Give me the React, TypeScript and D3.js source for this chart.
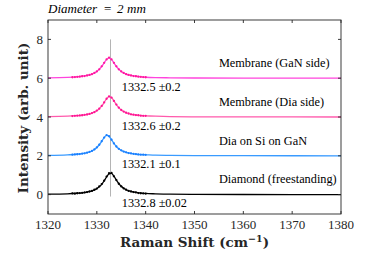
import React from 'react';
import * as d3 from 'd3';

// measured spectra (dots) share one wavenumber grid
const DOT_X = [1325, 1325.5, 1326, 1326.5, 1327, 1327.5, 1328, 1328.5, 1329, 1329.5, 1330, 1330.5, 1331, 1331.5, 1332, 1332.5, 1333, 1333.5, 1334, 1334.5, 1335, 1335.5, 1336, 1336.5, 1337, 1337.5, 1338, 1338.5, 1339, 1339.5, 1340];
// fitted curves share another grid
const FIT_X = [1320, 1324, 1326, 1327, 1328, 1329, 1330, 1330.5, 1331, 1331.5, 1332, 1332.5, 1333, 1333.5, 1334, 1334.5, 1335, 1336, 1337, 1338, 1339, 1340, 1342, 1345, 1350, 1360, 1380];

const NAMES = ['Diamond (freestanding)', 'Dia on Si on GaN', 'Membrane (Dia side)', 'Membrane (GaN side)'];
const PEAKS = ['1332.8 \u00b10.02', '1332.1 \u00b10.1', '1332.6 \u00b10.2', '1332.5 \u00b10.2'];
const OFFSETS = [0, 2, 4, 6];

const DOTS_FREE = [0.06, 0.05, 0.07, 0.08, 0.09, 0.11, 0.13, 0.16, 0.19, 0.25, 0.31, 0.42, 0.54, 0.72, 0.93, 1.10, 1.12, 0.94, 0.75, 0.56, 0.42, 0.32, 0.25, 0.19, 0.16, 0.13, 0.11, 0.08, 0.07, 0.06, 0.05];
const DOTS_SI = [0.06, 0.07, 0.08, 0.09, 0.11, 0.13, 0.16, 0.20, 0.25, 0.33, 0.43, 0.57, 0.75, 0.94, 1.07, 1.01, 0.83, 0.64, 0.48, 0.36, 0.28, 0.22, 0.18, 0.14, 0.12, 0.10, 0.09, 0.07, 0.06, 0.06, 0.05];
const DOTS_DIA = [0.05, 0.06, 0.07, 0.08, 0.09, 0.11, 0.13, 0.16, 0.20, 0.25, 0.33, 0.43, 0.57, 0.75, 0.94, 1.06, 1.00, 0.83, 0.64, 0.48, 0.36, 0.28, 0.22, 0.18, 0.14, 0.12, 0.10, 0.09, 0.07, 0.06, 0.06];
const DOTS_GAN = [0.05, 0.06, 0.07, 0.08, 0.10, 0.11, 0.14, 0.17, 0.21, 0.27, 0.35, 0.46, 0.61, 0.79, 0.97, 1.06, 0.97, 0.79, 0.61, 0.46, 0.35, 0.27, 0.21, 0.17, 0.14, 0.11, 0.10, 0.08, 0.07, 0.06, 0.05];

const FIT_FREE = [0.02, 0.04, 0.07, 0.09, 0.13, 0.19, 0.31, 0.40, 0.53, 0.71, 0.91, 1.07, 1.09, 0.95, 0.75, 0.57, 0.43, 0.25, 0.16, 0.11, 0.08, 0.06, 0.04, 0.02, 0.01, 0.004, 0.001];
const FIT_SI = [0.02, 0.05, 0.08, 0.11, 0.16, 0.25, 0.43, 0.57, 0.75, 0.94, 1.05, 1.00, 0.83, 0.64, 0.48, 0.36, 0.28, 0.18, 0.12, 0.08, 0.06, 0.05, 0.03, 0.02, 0.01, 0.004, 0.001];
const FIT_DIA = [0.02, 0.04, 0.07, 0.09, 0.13, 0.20, 0.33, 0.43, 0.57, 0.75, 0.94, 1.05, 1.00, 0.83, 0.64, 0.48, 0.36, 0.22, 0.14, 0.10, 0.07, 0.06, 0.04, 0.02, 0.01, 0.004, 0.001];
const FIT_GAN = [0.02, 0.04, 0.07, 0.10, 0.14, 0.21, 0.35, 0.46, 0.61, 0.79, 0.97, 1.05, 0.97, 0.79, 0.61, 0.46, 0.35, 0.21, 0.14, 0.10, 0.07, 0.05, 0.03, 0.02, 0.01, 0.004, 0.001];

const DOTS = [DOTS_FREE, DOTS_SI, DOTS_DIA, DOTS_GAN];
const FITS = [FIT_FREE, FIT_SI, FIT_DIA, FIT_GAN];
const LINE_COLORS = ['#000000', '#3a9bff', '#ff5aac', '#ff44dd'];
const DOT_COLORS = ['#000000', '#1a7fff', '#ff1493', '#ff1a9a'];

const X_TICKS = [1320, 1330, 1340, 1350, 1360, 1370, 1380];
const Y_TICKS = [0, 2, 4, 6, 8];
const REF_LINE = 1332.8;

const W = 374, H = 256;
const AXIS = '#262626';
const CSS = `
  .rm { font-family: 'Liberation Serif', 'Times New Roman', Times, serif !important; }
  .rm-b { font-family: 'DejaVu Serif', 'Liberation Serif', serif !important; font-weight: bold; }
`;

export default function App() {
  const x = d3.scaleLinear().domain([1320, 1380]).range([48, 341]);
  const y = d3.scaleLinear().domain([-1, 9]).range([214, 20]);
  const [x0, x1] = x.range();
  const [yb, yt] = y.range();

  const fitLine = (vals: number[], off: number) =>
    d3.line<number>().x((_, i) => x(FIT_X[i])).y(v => y(v + off)).curve(d3.curveMonotoneX)(vals) || '';

  return (
    <div style={{ position: 'absolute', left: 0, top: 0 }}>
      <style>{CSS}</style>
      <svg width={W} height={H} style={{ display: 'block', background: '#fff' }}>
        {/* title */}
        <text className="rm" y={13} fontStyle="italic" fontSize={13} fill="#000">
          <tspan x={48}>Diameter</tspan>
          <tspan x={104} fontStyle="normal">=</tspan>
          <tspan x={117}>2</tspan>
          <tspan x={127}>mm</tspan>
        </text>

        {/* reference line */}
        <line x1={x(REF_LINE)} x2={x(REF_LINE)} y1={y(8)} y2={y(-0.1)} stroke="#b4b4b4" strokeWidth={1} />

        {/* fits */}
        {FITS.map((vals, k) => (
          <path key={'f' + k} d={fitLine(vals, OFFSETS[k])} fill="none" stroke={LINE_COLORS[k]} strokeWidth={1.3} />
        ))}

        {/* measured points */}
        {DOTS.map((vals, k) => (
          <g key={'d' + k} fill={DOT_COLORS[k]}>
            {vals.map((v, i) => (
              <circle key={i} cx={x(DOT_X[i])} cy={y(v + OFFSETS[k])} r={1.15} />
            ))}
          </g>
        ))}

        {/* labels */}
        {NAMES.map((n, k) => (
          <text key={'n' + k} className="rm" x={x(1355)} y={y(OFFSETS[k] + 0.78) + 4} fontSize={12.3} fill="#000">
            {n}
          </text>
        ))}
        {PEAKS.map((p, k) => (
          <text key={'p' + k} className="rm" x={x(1335.1)} y={y(OFFSETS[k] - 0.44) + 4} fontSize={12.3} fill="#000">
            {p}
          </text>
        ))}

        {/* box + ticks */}
        <rect x={x0} y={yt} width={x1 - x0} height={yb - yt} fill="none" stroke={AXIS} strokeWidth={0.9} />
        {X_TICKS.map(t => (
          <g key={'xt' + t}>
            <line x1={x(t)} x2={x(t)} y1={yb} y2={yb - 3} stroke={AXIS} strokeWidth={0.9} />
            <line x1={x(t)} x2={x(t)} y1={yt} y2={yt + 3} stroke={AXIS} strokeWidth={0.9} />
            <text className="rm" x={x(t)} y={yb + 15} textAnchor="middle" fontSize={13} fill="#262626">{t}</text>
          </g>
        ))}
        {Y_TICKS.map(t => (
          <g key={'yt' + t}>
            <line x1={x0} x2={x0 + 3} y1={y(t)} y2={y(t)} stroke={AXIS} strokeWidth={0.9} />
            <line x1={x1} x2={x1 - 3} y1={y(t)} y2={y(t)} stroke={AXIS} strokeWidth={0.9} />
            <text className="rm" x={43} y={y(t) + 4.5} textAnchor="end" fontSize={13} fill="#262626">{t}</text>
          </g>
        ))}

        {/* axis titles */}
        <text className="rm-b" x={(x0 + x1) / 2} y={247} textAnchor="middle" fontSize={13.5} fill="#262626">
          Raman Shift (cm<tspan dy={-5} fontSize={9.5}>{'\u22121'}</tspan><tspan dy={5}>)</tspan>
        </text>
        <text className="rm-b" transform={`translate(28, ${(yb + yt) / 2 + 1}) rotate(-90)`} textAnchor="middle" fontSize={13.5} fill="#262626">
          Intensity (arb. unit)
        </text>
      </svg>
    </div>
  );
}
